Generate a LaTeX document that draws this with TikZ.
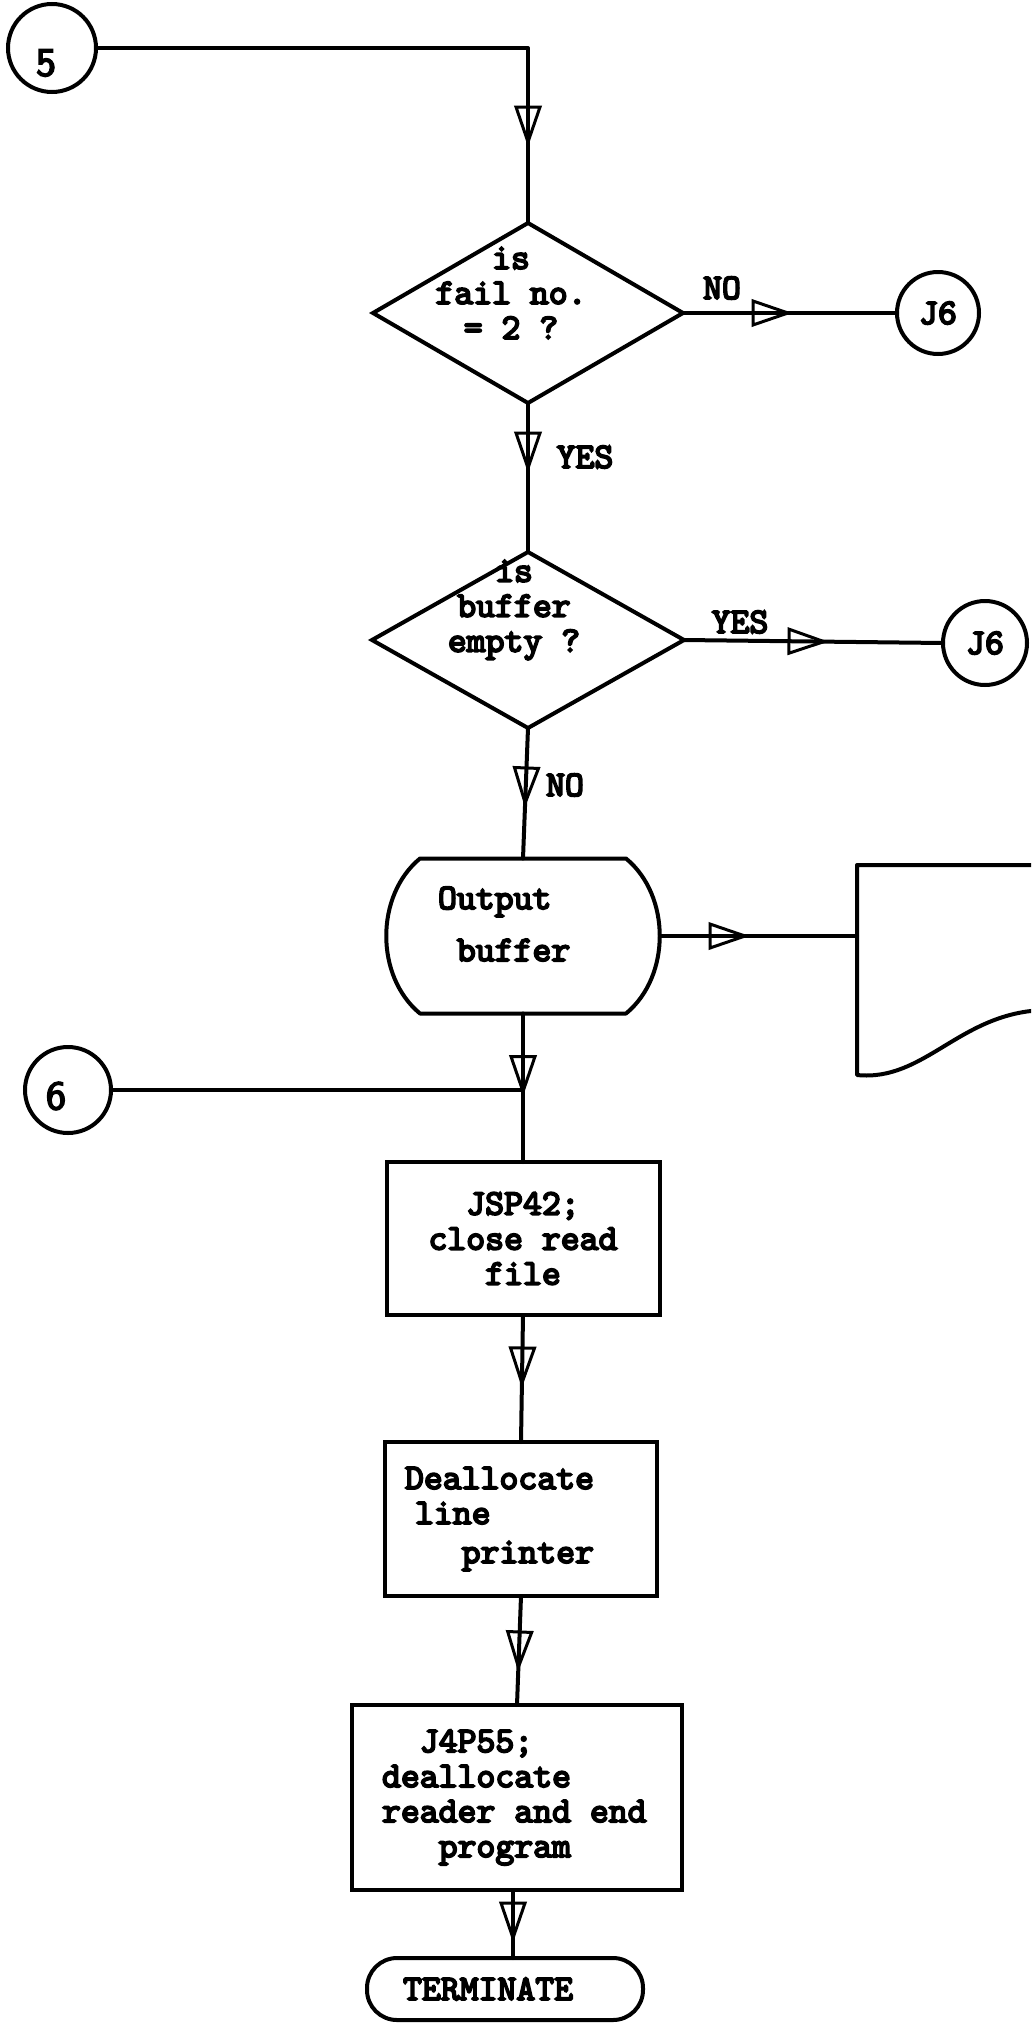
\documentclass[tikz,border=0pt]{standalone}
\usepackage{fontspec}
\usetikzlibrary{shapes.geometric,decorations.markings,calc}
\newfontfamily\twfont{lmmono10-regular.otf}[FakeBold=5]
\newfontfamily\digfont{lmsans10-regular.otf}[FakeBold=4]
\newcommand\tsp{\hphantom{x}}
\begin{document}
\begin{tikzpicture}[x=1pt,y=-1pt,
  every node/.style={inner sep=0pt, outer sep=0pt},
  ln/.style={line width=4pt, line cap=round, line join=round},
  tt/.style={font=\twfont\fontsize{36}{35}\selectfont},
  digit/.style={font=\digfont\fontsize{40}{40}\selectfont},
  circ/.style={circle, draw, line width=4pt},
  dia/.style={diamond, draw, line width=4pt},
  boxn/.style={rectangle, draw, line width=4pt, tt, inner ysep=4pt},
  harr/.style={postaction={decorate}, decoration={markings, mark=at position #1 with {\draw[line width=3pt, line join=miter, line cap=butt] (0,0) -- (-35,12) -- (-35,-12) -- cycle;}}}
]
\useasboundingbox (0,0) rectangle (1031,2026);
\fill[white] (0,0) rectangle (1031,2026);
\clip (0,0) rectangle (1031,2026);

% connectors' end nodes
\node[circ, minimum size=88, label={[digit, xshift=-6pt, yshift=-15pt]center:5}] (c5) at (52,48) {};
\node[dia, minimum width=310, minimum height=180] (d1) at (528,313) {};
\node[tt, align=center] (d1t) at (511,293) {is\\fail\tsp no.\\=\tsp 2\tsp ?};
\node[circ, minimum size=82, tt] (J6a) at (938,313) {J6};
\node[dia, minimum width=312, minimum height=176] (d2) at (528,640) {};
\node[tt, align=center] (d2t) at (514,610) {is\\buffer\\empty\tsp ?};
\node[circ, minimum size=84, tt] (J6b) at (985,643) {J6};

% output buffer (display symbol)
\node[minimum width=276, minimum height=155] (buf) at (523,936) {};
\draw[ln] ($(buf.north west)+(35,0)$) -- ($(buf.north east)+(-35,0)$)
  .. controls ($(buf.north east)+(10,37)$) and ($(buf.south east)+(10,-37)$) .. ($(buf.south east)+(-35,0)$)
  -- ($(buf.south west)+(35,0)$)
  .. controls ($(buf.south west)+(-10,-37)$) and ($(buf.north west)+(-10,37)$) .. cycle;
\node[tt, align=left, anchor=west] (buft) at (438,924) {Output\\[17pt]\tsp buffer};

% document symbol
\node[minimum width=200, minimum height=210, anchor=west] (doc) at (857,970) {};
\draw[ln] (doc.north east) -- (doc.north west) -- (doc.south west)
  .. controls ($(doc.south west)+(68,7)$) and ($(doc.south west)+(103,-63)$) .. ($(doc.south west)+(188,-65)$);

\node[circ, minimum size=86, label={[digit, xshift=-12pt, yshift=-6pt]center:6}] (c6) at (68,1090) {};

\node[boxn, minimum width=273, minimum height=153, text width=240, align=center] (box1) at (523,1238.5) {JSP42;\\close\tsp read\\file};
\node[boxn, minimum width=272, minimum height=154, text width=232, align=left] (box2) at (521,1519) {Deallocate\\\hspace*{10pt}line\\[4pt]\tsp\tsp\tsp printer};
\node[boxn, minimum width=330, minimum height=185, text width=270, align=left] (box3) at (517,1797.5) {\tsp\tsp J4P55;\\deallocate\\reader\tsp and\tsp end\\\tsp\tsp\tsp program};
\node[rectangle, draw, line width=4pt, rounded corners=30pt, minimum width=276, minimum height=62, tt, text width=204, align=left] (term) at (505,1989) {TERMINATE};

% labels
\node[tt] (lno1) at (722,288) {NO};
\node[tt] (lyes1) at (585,457) {YES};
\node[tt] (lyes2) at (740,622) {YES};
\node[tt] (lno2) at (565,785) {NO};

% connectors
\draw[ln, harr=526pt] (c5.east) -- (c5.east -| d1.north) -- (d1.north);
\draw[ln, harr=105pt] (d1.east) -- (J6a.west);
\draw[ln, harr=65pt] (d1.south) -- (d2.north);
\draw[ln, harr=140pt] (d2.east) -- (J6b.west);
\draw[ln, harr=75pt] (d2.south) -- (buf.north);
\draw[ln, harr=84pt] (buf.east) -- (buf.east -| doc.west);
\draw[ln, harr=78pt] (buf.south) -- (box1.north);
\draw[ln] (c6.east) -- (c6.east -| box1.north);
\draw[ln, harr=68pt] (box1.south) -- (box2.north);
\draw[ln, harr=71pt] (box2.south) -- (box3.north);
\draw[ln, harr=48pt] ($(box3.south)+(-4,0)$) -- ($(term.north)+(8,0)$);
\end{tikzpicture}
\end{document}
